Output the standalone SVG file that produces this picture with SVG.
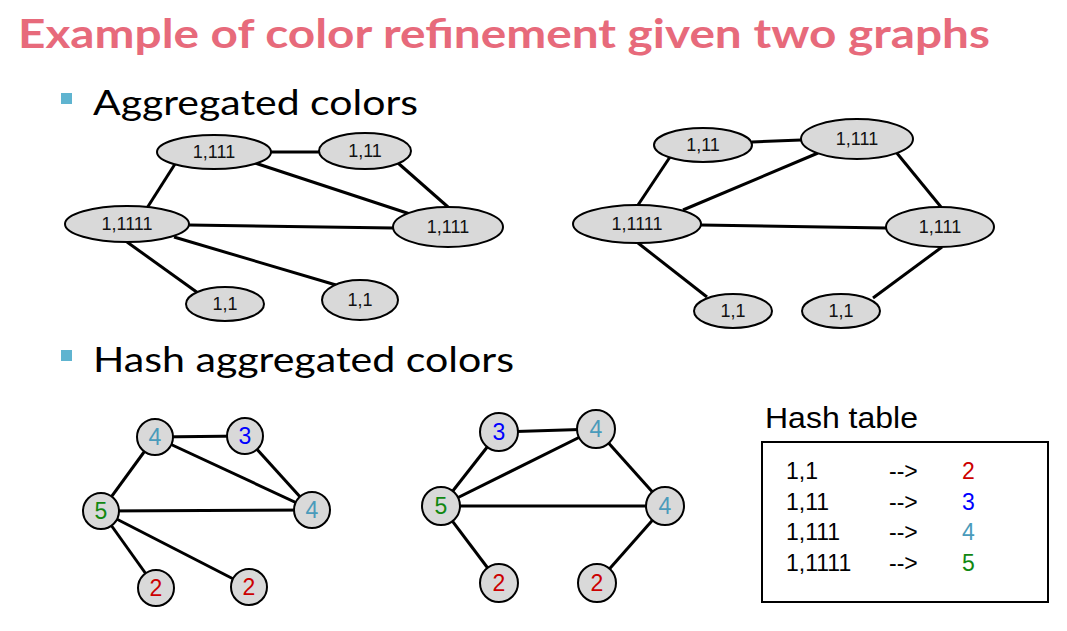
<svg xmlns="http://www.w3.org/2000/svg" width="1067" height="631" viewBox="0 0 1067 631">
<style>
.title{font-family:Lato,"Open Sans",sans-serif;font-weight:bold;font-size:40px;fill:#e76a7b}
.bul{font-family:Lato,"Open Sans",sans-serif;font-size:34px;fill:#000}
.sq{fill:#5fb4d0}
.nd{fill:#d9d9d9;stroke:#000;stroke-width:2}
.lb{font-family:"Liberation Sans",Arial,sans-serif;font-size:18px;fill:#111;text-anchor:middle}
.nl{font-family:"Liberation Sans",Arial,sans-serif;font-size:23px;text-anchor:middle}
.ed{stroke:#000;stroke-width:3;fill:none}
.ht{font-family:"Liberation Sans",Arial,sans-serif;font-size:23px;fill:#000}
.c2{fill:#cc0000}.c3{fill:#0000ff}.c4{fill:#4a9bbb}.c5{fill:#118811}
</style>
<rect width="1067" height="631" fill="#fff"/>
<text class="title" x="18" y="48" textLength="972" lengthAdjust="spacingAndGlyphs">Example of color refinement given two graphs</text>
<rect class="sq" x="61" y="93" width="11" height="11"/>
<text class="bul" x="93" y="115" textLength="325" lengthAdjust="spacingAndGlyphs">Aggregated colors</text>
<rect class="sq" x="61" y="350" width="11" height="11"/>
<text class="bul" x="93" y="372" textLength="421" lengthAdjust="spacingAndGlyphs">Hash aggregated colors</text>

<g id="connectors">
<!-- graph 1 -->
<line class="ed" x1="271" y1="152" x2="319" y2="152"/>
<line class="ed" x1="175" y1="164" x2="147" y2="208"/>
<line class="ed" x1="255" y1="163" x2="410" y2="214"/>
<line class="ed" x1="398" y1="163" x2="448" y2="207"/>
<line class="ed" x1="189" y1="225" x2="393" y2="228"/>
<line class="ed" x1="127" y1="242" x2="198" y2="293"/>
<line class="ed" x1="174" y1="237" x2="336" y2="285"/>
<!-- graph 2 -->
<line class="ed" x1="752" y1="142" x2="801" y2="140"/>
<line class="ed" x1="670" y1="157" x2="638" y2="205"/>
<line class="ed" x1="818" y1="153" x2="683" y2="210"/>
<line class="ed" x1="896" y1="152" x2="941" y2="207"/>
<line class="ed" x1="701" y1="225" x2="886" y2="228"/>
<line class="ed" x1="638" y1="243" x2="707" y2="297"/>
<line class="ed" x1="942" y1="247" x2="873" y2="298"/>
<!-- graph 3 -->
<line class="ed" x1="155" y1="437" x2="245" y2="436"/>
<line class="ed" x1="155" y1="437" x2="101" y2="511"/>
<line class="ed" x1="155" y1="437" x2="312" y2="510"/>
<line class="ed" x1="245" y1="436" x2="312" y2="510"/>
<line class="ed" x1="101" y1="511" x2="312" y2="510"/>
<line class="ed" x1="101" y1="511" x2="156" y2="588"/>
<line class="ed" x1="101" y1="511" x2="249" y2="587"/>
<!-- graph 4 -->
<line class="ed" x1="499" y1="432" x2="596" y2="429"/>
<line class="ed" x1="499" y1="432" x2="441" y2="506"/>
<line class="ed" x1="596" y1="429" x2="441" y2="506"/>
<line class="ed" x1="596" y1="429" x2="665" y2="506"/>
<line class="ed" x1="441" y1="506" x2="665" y2="506"/>
<line class="ed" x1="441" y1="506" x2="499" y2="583"/>
<line class="ed" x1="665" y1="506" x2="597" y2="583"/>
</g>

<!-- graph 1 nodes -->
<g id="g1-a"><ellipse class="nd" cx="214" cy="152" rx="57" ry="17"/><text class="lb" x="214" y="158">1,111</text></g>
<g id="g1-b"><ellipse class="nd" cx="365" cy="151" rx="46" ry="18"/><text class="lb" x="365" y="157">1,11</text></g>
<g id="g1-c"><ellipse class="nd" cx="127" cy="224" rx="62" ry="18"/><text class="lb" x="127" y="230">1,1111</text></g>
<g id="g1-d"><ellipse class="nd" cx="448" cy="227" rx="55" ry="20"/><text class="lb" x="448" y="233">1,111</text></g>
<g id="g1-e"><ellipse class="nd" cx="225" cy="304" rx="39" ry="17"/><text class="lb" x="225" y="310">1,1</text></g>
<g id="g1-f"><ellipse class="nd" cx="360" cy="300" rx="38" ry="20"/><text class="lb" x="360" y="306">1,1</text></g>

<!-- graph 2 nodes -->
<g id="g2-a"><ellipse class="nd" cx="703" cy="145" rx="49" ry="17"/><text class="lb" x="703" y="151">1,11</text></g>
<g id="g2-b"><ellipse class="nd" cx="857" cy="139" rx="56" ry="20"/><text class="lb" x="857" y="145">1,111</text></g>
<g id="g2-c"><ellipse class="nd" cx="637" cy="224" rx="64" ry="19"/><text class="lb" x="637" y="230">1,1111</text></g>
<g id="g2-d"><ellipse class="nd" cx="940" cy="227" rx="54" ry="20"/><text class="lb" x="940" y="233">1,111</text></g>
<g id="g2-e"><ellipse class="nd" cx="733" cy="311" rx="39" ry="17"/><text class="lb" x="733" y="317">1,1</text></g>
<g id="g2-f"><ellipse class="nd" cx="841" cy="311" rx="39" ry="17"/><text class="lb" x="841" y="317">1,1</text></g>

<!-- graph 3 nodes -->
<g id="g3-a"><circle class="nd" cx="155" cy="437" r="18"/><text class="nl c4" x="155" y="445">4</text></g>
<g id="g3-b"><circle class="nd" cx="245" cy="436" r="18"/><text class="nl c3" x="245" y="444">3</text></g>
<g id="g3-c"><circle class="nd" cx="101" cy="511" r="18"/><text class="nl c5" x="101" y="519">5</text></g>
<g id="g3-d"><circle class="nd" cx="312" cy="510" r="18"/><text class="nl c4" x="312" y="518">4</text></g>
<g id="g3-e"><circle class="nd" cx="156" cy="588" r="18"/><text class="nl c2" x="156" y="596">2</text></g>
<g id="g3-f"><circle class="nd" cx="249" cy="587" r="18"/><text class="nl c2" x="249" y="595">2</text></g>

<!-- graph 4 nodes -->
<g id="g4-a"><circle class="nd" cx="499" cy="432" r="19"/><text class="nl c3" x="499" y="440">3</text></g>
<g id="g4-b"><circle class="nd" cx="596" cy="429" r="19"/><text class="nl c4" x="596" y="437">4</text></g>
<g id="g4-c"><circle class="nd" cx="441" cy="506" r="19"/><text class="nl c5" x="441" y="514">5</text></g>
<g id="g4-d"><circle class="nd" cx="665" cy="506" r="19"/><text class="nl c4" x="665" y="514">4</text></g>
<g id="g4-e"><circle class="nd" cx="499" cy="583" r="19"/><text class="nl c2" x="499" y="591">2</text></g>
<g id="g4-f"><circle class="nd" cx="597" cy="583" r="19"/><text class="nl c2" x="597" y="591">2</text></g>

<!-- hash table -->
<g id="hash-table">
<text x="765" y="428" font-family="Liberation Sans, Arial, sans-serif" font-size="29" fill="#000" textLength="153" lengthAdjust="spacingAndGlyphs">Hash table</text>
<rect x="762" y="442" width="286" height="160" fill="none" stroke="#000" stroke-width="2"/>
<text class="ht" x="786" y="479">1,1</text><text class="ht" x="889" y="479">--&gt;</text><text class="ht c2" x="962" y="479">2</text>
<text class="ht" x="786" y="510">1,11</text><text class="ht" x="889" y="510">--&gt;</text><text class="ht c3" x="962" y="510">3</text>
<text class="ht" x="786" y="540">1,111</text><text class="ht" x="889" y="540">--&gt;</text><text class="ht c4" x="962" y="540">4</text>
<text class="ht" x="786" y="571">1,1111</text><text class="ht" x="889" y="571">--&gt;</text><text class="ht c5" x="962" y="571">5</text>
</g>
</svg>
